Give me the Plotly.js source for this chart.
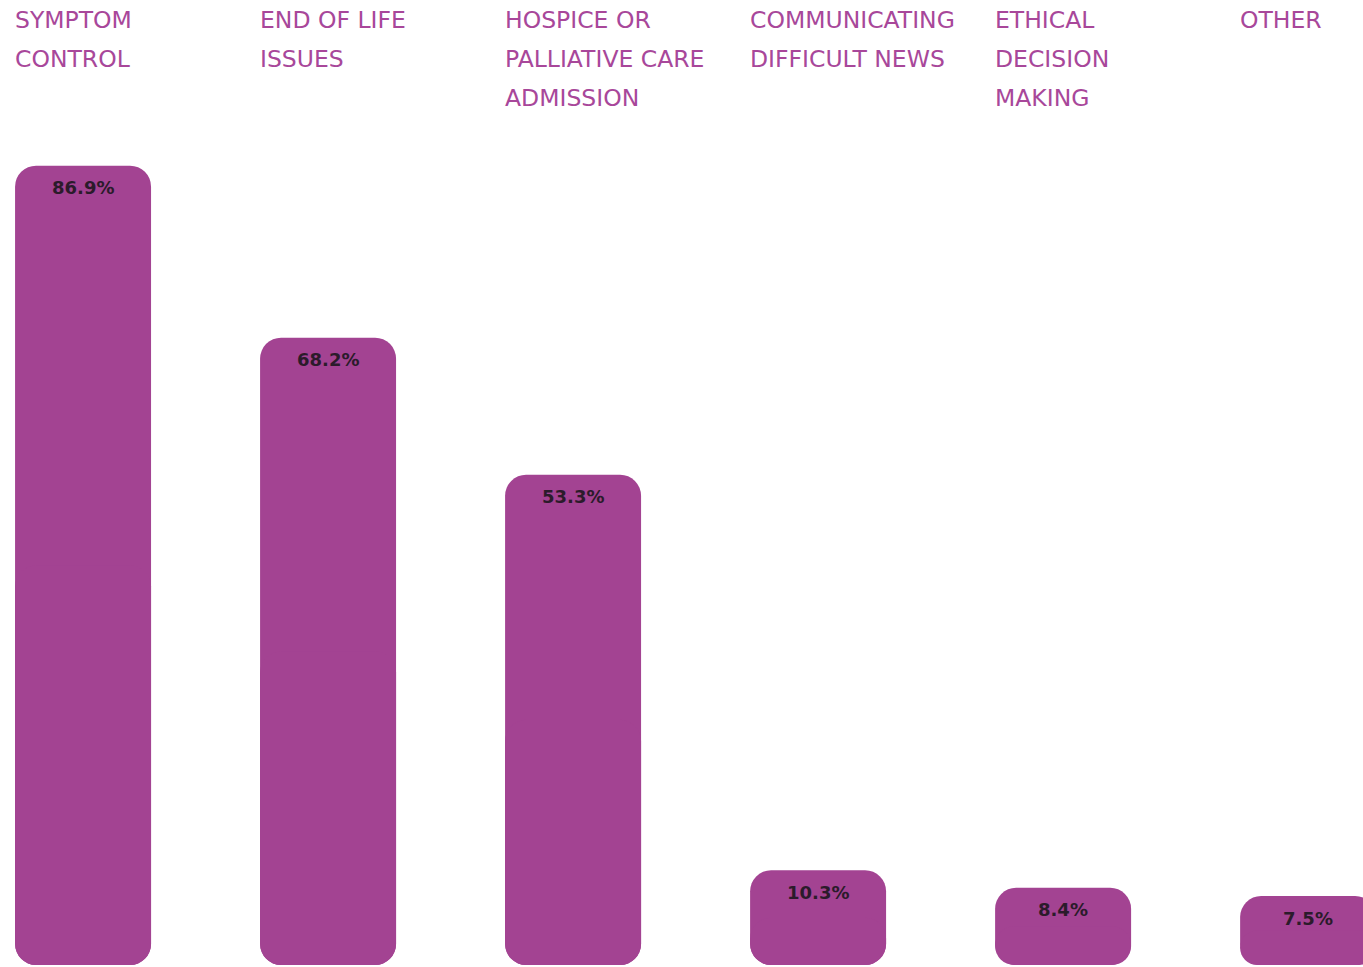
<!DOCTYPE html>
<html>
<head>
<meta charset="utf-8">
<script src="https://cdn.plot.ly/plotly-3.0.1.min.js"></script>
<style>html,body{margin:0;padding:0;background:#fff;}#chart{width:1363px;height:967px;}</style>
</head>
<body>
<div id="chart"></div>
<script>
const categories = ["SYMPTOM CONTROL", "END OF LIFE ISSUES", "HOSPICE OR PALLIATIVE CARE ADMISSION", "COMMUNICATING DIFFICULT NEWS", "ETHICAL DECISION MAKING", "OTHER"];
const labelLines = [["SYMPTOM", "CONTROL"], ["END OF LIFE", "ISSUES"], ["HOSPICE OR", "PALLIATIVE CARE", "ADMISSION"], ["COMMUNICATING", "DIFFICULT NEWS"], ["ETHICAL", "DECISION", "MAKING"], ["OTHER"]];
const values = [86.9, 68.2, 53.3, 10.3, 8.4, 7.5];
const valueLabels = ["86.9%", "68.2%", "53.3%", "10.3%", "8.4%", "7.5%"];

const barColor = "#A34392";
const textColor = "#A8479A";
const barWidth = 0.555;
const xIdx = categories.map((c, i) => i);

const topTrace = {
  type: "bar", x: xIdx, y: values, base: values.map(() => 0),
  width: barWidth, marker: {color: barColor, cornerradius: 21, line: {width: 0}},
  hoverinfo: "skip", showlegend: false
};
const bottomTrace = {
  type: "bar", x: xIdx, y: values.map(v => -v / 2), base: values.map(v => v / 2),
  width: barWidth, marker: {color: barColor, cornerradius: 21, line: {width: 0}},
  hoverinfo: "skip", showlegend: false
};

const annotations = [];
labelLines.forEach((lines, i) => {
  lines.forEach((line, k) => {
    annotations.push({
      text: line, x: i - barWidth / 2, xref: "x", xanchor: "left", xshift: -2,
      y: 1, yref: "paper", yanchor: "middle", yshift: -20 - 39 * k,
      showarrow: false, font: {family: "DejaVu Sans", size: 23.5, color: textColor}
    });
  });
});
values.forEach((v, i) => {
  annotations.push({
    text: "<b>" + valueLabels[i] + "</b>", x: i, xref: "x", xanchor: "center",
    y: v, yref: "y", yanchor: "middle", yshift: -22,
    showarrow: false, font: {family: "DejaVu Sans", size: 18, color: "#2b1b2b"}
  });
});

const layout = {
  width: 1363, height: 967,
  margin: {l: 0, r: 0, t: 0, b: 0, pad: 0},
  paper_bgcolor: "#ffffff", plot_bgcolor: "#ffffff",
  barmode: "overlay",
  xaxis: {range: [-0.339, 5.224], visible: false, fixedrange: true},
  yaxis: {range: [-0.217, 104.91], visible: false, fixedrange: true},
  annotations: annotations,
  showlegend: false
};
Plotly.newPlot("chart", [topTrace, bottomTrace], layout, {displayModeBar: false, staticPlot: true});
</script>
</body>
</html>
